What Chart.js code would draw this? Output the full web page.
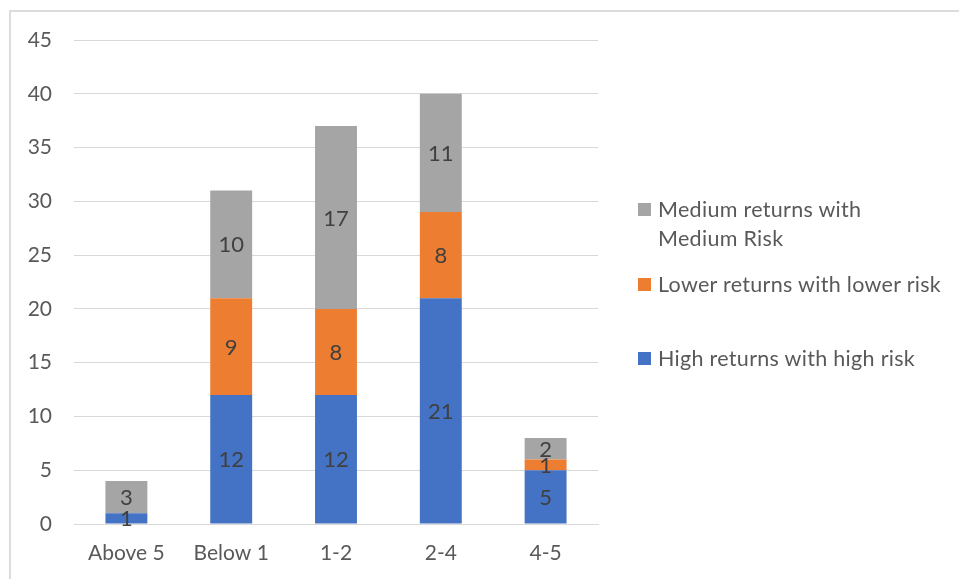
<!DOCTYPE html>
<html>
<head>
<meta charset="utf-8">
<script src="https://cdn.jsdelivr.net/npm/chart.js@4/dist/chart.umd.min.js"></script>
<style>
  html, body { margin: 0; padding: 0; background: #fff; }
  #wrap { position: relative; width: 959px; height: 579px; overflow: hidden; font-family: Lato, "Liberation Sans", sans-serif; }
  #frame { position: absolute; left: 9px; top: 10px; width: 960px; height: 600px; border-left: 2px solid #dcdcdc; border-top: 2px solid #dcdcdc; box-sizing: border-box; }
  #chart { position: absolute; left: 0; top: 0; }
  #legend { position: absolute; left: 638px; top: 0; }
  .item { position: absolute; left: 0; color: #595959; font-size: 21.5px; line-height: 29px; }
  .box { position: absolute; left: 0; width: 13px; height: 13px; }
  .txt { position: absolute; left: 20px; white-space: pre; letter-spacing: 0.3px; }
</style>
</head>
<body>
<div id="wrap">
  <div id="frame"></div>
  <canvas id="chart" width="959" height="579"></canvas>
  <div id="legend"></div>
</div>
<script>
const categories = ["Above 5", "Below 1", "1-2", "2-4", "4-5"];
const highReturnsHighRisk = [1, 12, 12, 21, 5];
const lowerReturnsLowerRisk = [0, 9, 8, 8, 1];
const mediumReturnsMediumRisk = [3, 10, 17, 11, 2];
const yTicks = [0, 5, 10, 15, 20, 25, 30, 35, 40, 45];

const seriesNames = [
  "High returns with high risk",
  "Lower returns with lower risk",
  "Medium returns with\nMedium Risk"
];
const seriesColors = ["#4472C4", "#ED7D31", "#A5A5A5"];

// Value labels centred inside each stacked segment
const segmentLabels = {
  id: "segmentLabels",
  afterDatasetsDraw(chart) {
    const ctx = chart.ctx;
    ctx.save();
    ctx.font = "22px Lato, 'Liberation Sans', sans-serif";
    ctx.fillStyle = "#404040";
    ctx.textAlign = "center";
    ctx.textBaseline = "middle";
    chart.data.datasets.forEach((ds, i) => {
      const meta = chart.getDatasetMeta(i);
      meta.data.forEach((bar, j) => {
        const v = ds.data[j];
        if (!v) return;
        const cy = (bar.y + bar.base) / 2;
        ctx.fillText(String(v), bar.x, cy + 1);
      });
    });
    ctx.restore();
  }
};

const datasets = [highReturnsHighRisk, lowerReturnsLowerRisk, mediumReturnsMediumRisk].map((d, i) => ({
  label: seriesNames[i],
  data: d,
  backgroundColor: seriesColors[i],
  borderWidth: 0,
  categoryPercentage: 1,
  barPercentage: 0.4
}));

new Chart(document.getElementById("chart"), {
  type: "bar",
  data: { labels: categories, datasets },
  options: {
    responsive: false,
    animation: false,
    layout: { padding: { left: 10, right: 361, top: 40, bottom: 0 } },
    plugins: { legend: { display: false }, tooltip: { enabled: false } },
    scales: {
      x: {
        stacked: true,
        grid: { display: false, drawTicks: false },
        border: { display: true, color: "#d9d9d9", width: 1 },
        ticks: { color: "#595959", font: { family: "Lato", size: 21 }, padding: 17, maxRotation: 0 },
        afterFit(s) { s.height = 55; }
      },
      y: {
        stacked: true,
        min: 0,
        max: 45,
        afterBuildTicks(s) { s.ticks = yTicks.map(v => ({ value: v })); },
        grid: { color: "#d9d9d9", lineWidth: 1, drawTicks: false },
        border: { display: false },
        ticks: { color: "#595959", font: { family: "Lato", size: 21 }, padding: 22 },
        afterFit(s) { s.width = 64; }
      }
    }
  },
  plugins: [segmentLabels]
});

// Legend, listed in reverse stacking order
const legend = document.getElementById("legend");
const legendRows = [
  { idx: 2, top: 195 },
  { idx: 1, top: 270 },
  { idx: 0, top: 344 }
];
legendRows.forEach(r => {
  const item = document.createElement("div");
  item.className = "item";
  item.style.top = r.top + "px";
  const box = document.createElement("div");
  box.className = "box";
  box.style.background = seriesColors[r.idx];
  box.style.top = "8px";
  const txt = document.createElement("div");
  txt.className = "txt";
  txt.style.top = "0px";
  txt.textContent = seriesNames[r.idx];
  item.appendChild(box);
  item.appendChild(txt);
  legend.appendChild(item);
});
</script>
</body>
</html>
